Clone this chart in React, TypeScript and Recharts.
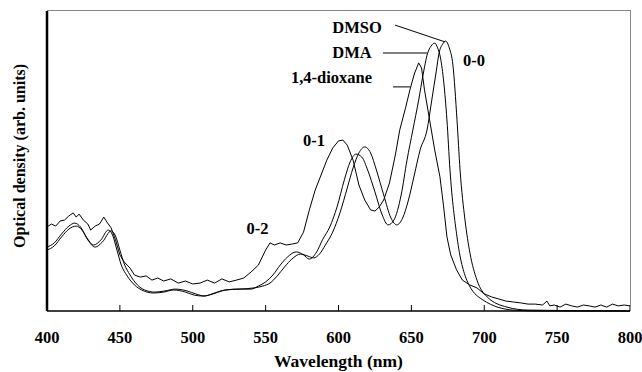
import React from "react";
import {
  LineChart,
  Line,
  XAxis,
  YAxis,
  ReferenceLine,
  ReferenceDot,
} from "recharts";

// Absorption spectra of the dye in three solvents (optical density, arb. units 0-100)

const dioxaneNm = [
  400, 403, 406, 409, 412, 415, 418, 420, 422, 425, 428, 430, 433, 436, 439,
  441, 444, 447, 450, 453, 455, 457, 460, 464, 468, 472, 476, 480, 485, 490,
  495, 500, 505, 510, 515, 520, 525, 530, 535, 540, 545, 550, 553, 556, 560,
  564, 568, 572, 576, 580, 584, 588, 592, 596, 600, 603, 606, 610, 614, 618,
  622, 625, 628, 631, 635, 639, 642, 646, 649, 652, 655, 657, 659, 663, 666,
  669.6, 672, 674.4, 677, 681, 685, 690, 695, 700, 705, 710, 715, 720, 725,
  730, 735, 740, 743, 745, 748, 752, 756, 760, 764, 768, 772, 776, 780, 784,
  788, 792, 796, 800,
];
const dioxaneOD = [
  28.0, 29.0, 28.3, 30.0, 30.3, 31.7, 32.7, 31.3, 32.3, 30.3, 29.0, 27.0, 28.3,
  29.0, 31.3, 29.7, 27.7, 23.7, 18.7, 16.3, 15.3, 14.3, 12.0, 11.3, 11.7, 10.3,
  11.0, 10.0, 10.7, 9.3, 10.0, 9.0, 9.3, 10.3, 9.3, 10.7, 9.7, 10.3, 11.0, 13.0,
  15.3, 20.3, 22.7, 22.0, 22.7, 22.0, 22.3, 22.7, 26.3, 33.7, 40.3, 45.3, 50.3,
  54.3, 56.7, 57.0, 55.3, 50.3, 42.0, 37.0, 33.7, 33.3, 34.7, 37.0, 42.7, 52.0,
  60.3, 67.7, 73.7, 79.0, 82.7, 81.0, 73.7, 62.3, 53.7, 44.7, 35.3, 24.7, 18.7,
  13.7, 10.3, 8.7, 7.7, 5.7, 4.7, 4.0, 3.3, 3.0, 2.7, 2.3, 2.3, 2.0, 3.3, 1.7,
  2.0, 1.3, 2.3, 1.7, 1.3, 2.0, 1.7, 1.3, 2.0, 1.3, 2.3, 1.7, 2.0, 1.7,
];

const dmaNm = [
  400, 405, 410, 415, 419, 423, 427, 432, 437, 442, 445, 448, 451, 455, 460,
  465, 473, 480, 487, 495, 501, 507, 514, 520, 530, 540, 545, 550, 555, 560,
  565, 571, 576, 580, 585, 589, 594, 599, 604, 608, 612, 616, 620, 625, 630,
  634, 638, 643, 647, 651, 655, 658, 661, 663.5, 666, 668, 670, 674.4, 676.5,
  681.3, 688, 699, 720, 740, 800,
];
const dmaOD = [
  21.3, 22.7, 25.7, 28.3, 29.3, 28.0, 24.7, 22.0, 23.7, 27.0, 25.3, 20.3, 15.3,
  11.7, 8.7, 7.0, 6.0, 6.3, 7.0, 6.3, 5.3, 5.0, 5.7, 6.7, 7.3, 7.3, 8.3, 9.7,
  12.0, 15.3, 18.0, 19.7, 18.7, 17.3, 19.7, 23.7, 28.0, 34.7, 43.7, 49.7, 52.3,
  51.3, 47.0, 39.7, 32.0, 28.7, 30.3, 38.7, 50.3, 60.3, 70.3, 78.7, 85.7, 88.3,
  89.3, 87.7, 84.3, 63.7, 47.0, 24.7, 10.3, 3.7, 0.3, 0, 0,
];

const dmsoNm = [
  400, 405, 410, 415, 420, 424, 428, 433, 438, 444, 447, 450, 453, 457, 462,
  467, 474, 481, 488, 496, 502, 508, 515, 522, 532, 542, 548, 553, 558, 563,
  568, 574, 579, 583, 587, 591, 596, 601, 606, 610, 614, 618, 622, 626, 631,
  636, 640, 644, 648, 652, 656, 660.7, 664, 667, 669, 671.5, 673.5, 676, 678.5,
  681.3, 683.4, 686.8, 690.2, 695, 702, 715.6, 730, 800,
];
const dmsoOD = [
  20.3, 21.7, 24.7, 27.3, 28.3, 27.0, 23.7, 21.3, 23.0, 26.7, 25.0, 20.3, 15.7,
  12.0, 8.7, 7.0, 6.3, 6.7, 7.3, 6.7, 5.7, 5.0, 6.0, 7.0, 7.3, 7.7, 8.3, 9.3,
  11.7, 14.7, 17.3, 19.0, 18.3, 17.7, 19.0, 22.0, 26.3, 32.7, 41.0, 47.7, 52.7,
  54.7, 52.7, 47.0, 38.7, 31.0, 28.7, 31.0, 37.0, 45.3, 53.7, 60.3, 70.3, 79.7,
  86.0, 89.0, 90.0, 87.7, 82.0, 63.7, 47.0, 30.3, 19.3, 10.3, 4.7, 1.3, 0.3, 0,
];

const xTicks = [400, 450, 500, 550, 600, 650, 700, 750, 800];

const toSeries = (nm: number[], od: number[]) =>
  nm.map((x, i) => ({ x, od: od[i] }));

const dioxane = toSeries(dioxaneNm, dioxaneOD);
const dma = toSeries(dmaNm, dmaOD);
const dmso = toSeries(dmsoNm, dmsoOD);

const FONT = "Liberation Serif";

const labelStyle = {
  fill: "#000",
  fontSize: 16.5,
  fontWeight: "bold",
  fontFamily: FONT,
};

// tick marks point inward, labels sit below the axis
const XTick = (props: any) => {
  const { x, y, payload } = props;
  return (
    <g>
      <line x1={x} y1={y} x2={x} y2={y - 6} stroke="#000" />
      <text
        x={x}
        y={y + 32}
        textAnchor="middle"
        fill="#000"
        style={{ fontSize: 16.5, fontWeight: "bold", fontFamily: FONT }}
      >
        {payload.value}
      </text>
    </g>
  );
};

const YTitle = () => (
  <text
    transform="translate(25,156) rotate(-90)"
    textAnchor="middle"
    fill="#000"
    style={{ fontSize: 16, fontWeight: "bold", fontFamily: FONT }}
  >
    Optical density (arb. units)
  </text>
);

export default function App() {
  return (
    <div
      style={{
        position: "absolute",
        left: 0,
        top: 0,
        width: 642,
        height: 372,
        background: "#fff",
        fontFamily: FONT,
      }}
    >
      <LineChart
        width={642}
        height={372}
        margin={{ top: 11, right: 12, bottom: 31, left: 46 }}
        style={{ fontFamily: FONT }}
      >
        <XAxis
          type="number"
          dataKey="x"
          domain={[400, 800]}
          ticks={xTicks}
          allowDataOverflow
          height={30}
          tickSize={0}
          tickMargin={0}
          tickLine={false}
          axisLine={{ stroke: "#000", strokeWidth: 1.5 }}
          tick={<XTick />}
          label={{
            value: "Wavelength (nm)",
            position: "bottom",
            offset: 14,
            ...labelStyle,
            fontSize: 17.5,
          }}
        />
        <YAxis
          type="number"
          domain={[0, 100]}
          width={1}
          tick={false}
          tickLine={false}
          axisLine={false}
          label={{ content: () => <YTitle /> }}
        />
        <ReferenceLine
          segment={[
            { x: 400, y: 0 },
            { x: 400, y: 100 },
          ]}
          stroke="#000"
          strokeWidth={2.5}
          ifOverflow="visible"
        />

        <Line
          data={dioxane}
          dataKey="od"
          type="linear"
          stroke="#000"
          strokeWidth={1}
          dot={false}
          isAnimationActive={false}
        />
        <Line
          data={dma}
          dataKey="od"
          type="monotone"
          stroke="#000"
          strokeWidth={1}
          dot={false}
          isAnimationActive={false}
        />
        <Line
          data={dmso}
          dataKey="od"
          type="monotone"
          stroke="#000"
          strokeWidth={1}
          dot={false}
          isAnimationActive={false}
        />

        {/* leader lines */}
        <ReferenceLine
          segment={[
            { x: 638.8, y: 95.3 },
            { x: 673.1, y: 89.7 },
          ]}
          stroke="#000"
          ifOverflow="visible"
        />
        <ReferenceLine
          segment={[
            { x: 630.5, y: 86.0 },
            { x: 660.7, y: 86.0 },
          ]}
          stroke="#000"
          ifOverflow="visible"
        />
        <ReferenceLine
          segment={[
            { x: 637.4, y: 74.7 },
            { x: 649.1, y: 74.7 },
          ]}
          stroke="#000"
          ifOverflow="visible"
        />

        {/* annotations */}
        <ReferenceDot x={612.7} y={94.5} r={0} fill="none" stroke="none"
          label={{ value: "DMSO", position: "center", ...labelStyle }} />
        <ReferenceDot x={609.3} y={86.3} r={0} fill="none" stroke="none"
          label={{ value: "DMA", position: "center", ...labelStyle }} />
        <ReferenceDot x={595.2} y={77.8} r={0} fill="none" stroke="none"
          label={{ value: "1,4-dioxane", position: "center", ...labelStyle }} />
        <ReferenceDot x={693.0} y={83.7} r={0} fill="none" stroke="none"
          label={{ value: "0-0", position: "center", ...labelStyle }} />
        <ReferenceDot x={583.2} y={57.0} r={0} fill="none" stroke="none"
          label={{ value: "0-1", position: "center", ...labelStyle }} />
        <ReferenceDot x={544.4} y={27.7} r={0} fill="none" stroke="none"
          label={{ value: "0-2", position: "center", ...labelStyle }} />
      </LineChart>
      {/* grey frame on the top and right of the plot area */}
      <div
        style={{
          position: "absolute",
          left: 47,
          top: 10,
          width: 583,
          height: 300,
          borderTop: "1px solid #888",
          borderRight: "1px solid #888",
          pointerEvents: "none",
        }}
      />
    </div>
  );
}
